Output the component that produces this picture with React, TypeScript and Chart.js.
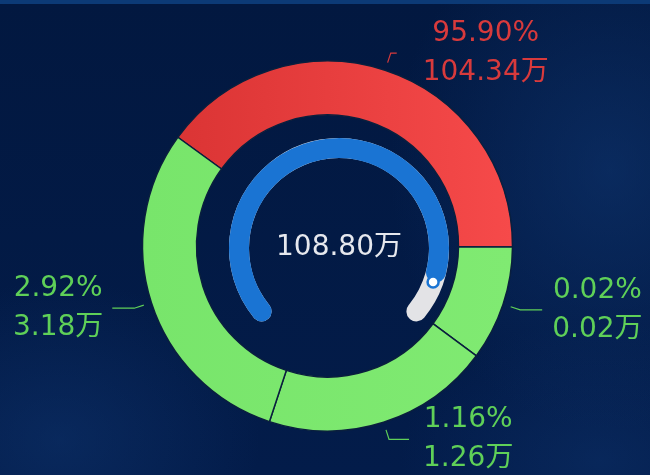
import React, { useEffect, useRef } from 'react';
import { Chart, registerables } from 'chart.js';

Chart.register(...registerables);

// ---- data ----
const segmentNames = ['分类一', '分类二', '分类三', '分类四'];
const percentValues = [95.9, 0.02, 1.16, 2.92];
const amountValues = [104.34, 0.02, 1.26, 3.18];
// visual arc sizes (degrees) as drawn in the reference ring
const arcSpanDegrees = [144.3, 36.1, 71.9, 107.7];
const totalAmount = 108.8;
const gaugeMax = 120;
const unit = '万';

// ---- styles / layout ----
const RED = '#e83c3c';
const GREEN = '#7ae56d';
const RED_TEXT = '#d83a3c';
const GREEN_TEXT = '#5fd058';
const segmentColorKeys = ['red', 'green', 'green', 'green'];
const leaderLen2 = [6, 22, 20, 22];
const textGap = [26, 10, 14, 9];
const FONT = '"DejaVu Sans", "Noto Sans CJK SC", sans-serif';

const outerLabelPlugin = {
  id: 'outerLabels',
  afterDatasetsDraw(chart: any) {
    const ctx = chart.ctx;
    const meta = chart.getDatasetMeta(0);
    meta.data.forEach((arc: any, i: number) => {
      const { x, y, startAngle, endAngle, outerRadius } = arc.getProps(
        ['x', 'y', 'startAngle', 'endAngle', 'outerRadius'],
        true
      );
      const mid = (startAngle + endAngle) / 2;
      const dx = Math.cos(mid);
      const dy = Math.sin(mid);
      const right = dx >= 0;
      const color = segmentColorKeys[i] === 'red' ? RED_TEXT : GREEN_TEXT;
      const p1x = x + dx * (outerRadius + 8);
      const p1y = y + dy * (outerRadius + 8);
      const p2x = x + dx * (outerRadius + 18);
      const p2y = y + dy * (outerRadius + 18);
      const p3x = p2x + (right ? 1 : -1) * leaderLen2[i];
      const p3y = p2y;
      ctx.save();
      ctx.strokeStyle = color;
      ctx.lineWidth = 1.2;
      ctx.beginPath();
      ctx.moveTo(p1x, p1y);
      ctx.lineTo(p2x, p2y);
      ctx.lineTo(p3x, p3y);
      ctx.stroke();
      ctx.font = '28px ' + FONT;
      ctx.fillStyle = color;
      const l1 = percentValues[i].toFixed(2) + '%';
      const l2 = amountValues[i].toFixed(2) + unit;
      const w = Math.max(ctx.measureText(l1).width, ctx.measureText(l2).width);
      const left = right ? p3x + textGap[i] : p3x - textGap[i] - w;
      const cx = left + w / 2;
      ctx.textAlign = 'center';
      ctx.textBaseline = 'alphabetic';
      ctx.fillText(l1, cx, p3y - 12);
      ctx.fillText(l2, cx, p3y + 27);
      ctx.restore();
    });
  },
};

const gaugeDotPlugin = {
  id: 'gaugeDot',
  afterDatasetsDraw(chart: any) {
    const ctx = chart.ctx;
    const arc: any = chart.getDatasetMeta(0).data[0];
    const { x, y, endAngle, outerRadius, innerRadius } = arc.getProps(
      ['x', 'y', 'endAngle', 'outerRadius', 'innerRadius'],
      true
    );
    const r = (outerRadius + innerRadius) / 2;
    const px = x + Math.cos(endAngle) * r;
    const py = y + Math.sin(endAngle) * r;
    ctx.save();
    ctx.beginPath();
    ctx.arc(px, py, 5.5, 0, Math.PI * 2);
    ctx.fillStyle = '#ffffff';
    ctx.fill();
    ctx.lineWidth = 2.5;
    ctx.strokeStyle = '#1a74d3';
    ctx.stroke();
    ctx.font = '28px ' + FONT;
    ctx.fillStyle = '#e6e8ee';
    ctx.textAlign = 'center';
    ctx.textBaseline = 'alphabetic';
    ctx.fillText(totalAmount.toFixed(2) + unit, x, y + 7);
    ctx.restore();
  },
};

export default function App() {
  const outerRef = useRef<HTMLCanvasElement>(null);
  const trackRef = useRef<HTMLCanvasElement>(null);
  const progRef = useRef<HTMLCanvasElement>(null);

  useEffect(() => {
    const common: any = {
      responsive: false,
      maintainAspectRatio: false,
      animation: false,
      events: [],
      plugins: { legend: { display: false }, tooltip: { enabled: false } },
    };

    const outer = new Chart(outerRef.current!, {
      type: 'doughnut',
      data: {
        labels: segmentNames,
        datasets: [
          {
            data: arcSpanDegrees,
            backgroundColor: (c: any) => {
              const area = c.chart.chartArea;
              const key = segmentColorKeys[c.dataIndex];
              if (!area) return key === 'red' ? RED : GREEN;
              const g = c.chart.ctx.createLinearGradient(area.left, 0, area.right, 0);
              if (key === 'red') {
                g.addColorStop(0, '#d83232');
                g.addColorStop(1, '#f64a4a');
              } else {
                g.addColorStop(0, '#78e56b');
                g.addColorStop(1, '#80ea72');
              }
              return g;
            },
            borderColor: '#0a1f3e',
            borderWidth: 1.5,
            hoverOffset: 0,
          },
        ],
      },
      options: {
        ...common,
        rotation: -54,
        radius: 185,
        cutout: '70.8%',
        layout: { padding: { left: 142.5, right: 137.5, top: 61, bottom: 44 } },
      },
      plugins: [outerLabelPlugin],
    } as any);

    const track = new Chart(trackRef.current!, {
      type: 'doughnut',
      data: {
        labels: ['track'],
        datasets: [
          {
            data: [gaugeMax],
            backgroundColor: ['#e3e3e6'],
            borderWidth: 0,
            borderRadius: 10,
            hoverOffset: 0,
          },
        ],
      },
      options: {
        ...common,
        rotation: -135,
        circumference: 270,
        radius: 110,
        cutout: '81.82%',
      },
    } as any);

    const prog = new Chart(progRef.current!, {
      type: 'doughnut',
      data: {
        labels: ['value', 'rest'],
        datasets: [
          {
            data: [totalAmount, gaugeMax - totalAmount],
            backgroundColor: ['#1a74d3', 'rgba(0,0,0,0)'],
            borderWidth: 0,
            borderRadius: (c: any) => (c.dataIndex === 0 ? 10 : 0),
            hoverOffset: 0,
          },
        ],
      },
      options: {
        ...common,
        rotation: -135,
        circumference: 270,
        radius: 110,
        cutout: '81.82%',
      },
      plugins: [gaugeDotPlugin],
    } as any);

    return () => {
      outer.destroy();
      track.destroy();
      prog.destroy();
    };
  }, []);

  const gaugeStyle: React.CSSProperties = {
    position: 'absolute',
    left: 219,
    top: 112,
    width: 240,
    height: 240,
  };

  return (
    <div
      style={{
        position: 'fixed',
        left: 0,
        top: 0,
        width: 650,
        height: 475,
        overflow: 'hidden',
        background:
          'radial-gradient(ellipse 220px 260px at 610px 170px, rgba(16,56,116,0.55), rgba(16,56,116,0) 100%),' +
          'radial-gradient(ellipse 200px 160px at 60px 440px, rgba(16,56,116,0.45), rgba(16,56,116,0) 100%),' +
          'radial-gradient(ellipse 200px 140px at 600px 460px, rgba(16,56,116,0.4), rgba(16,56,116,0) 100%),' +
          'linear-gradient(180deg, #021840 0%, #031c4a 100%)',
      }}
    >
      <div
        style={{
          position: 'absolute',
          left: 0,
          top: 0,
          width: 650,
          height: 4,
          background: '#0c3a76',
        }}
      />
      <canvas
        ref={outerRef}
        width={650}
        height={475}
        style={{ position: 'absolute', left: 0, top: 0, width: 650, height: 475 }}
      />
      <canvas ref={trackRef} width={240} height={240} style={gaugeStyle} />
      <canvas ref={progRef} width={240} height={240} style={gaugeStyle} />
    </div>
  );
}
